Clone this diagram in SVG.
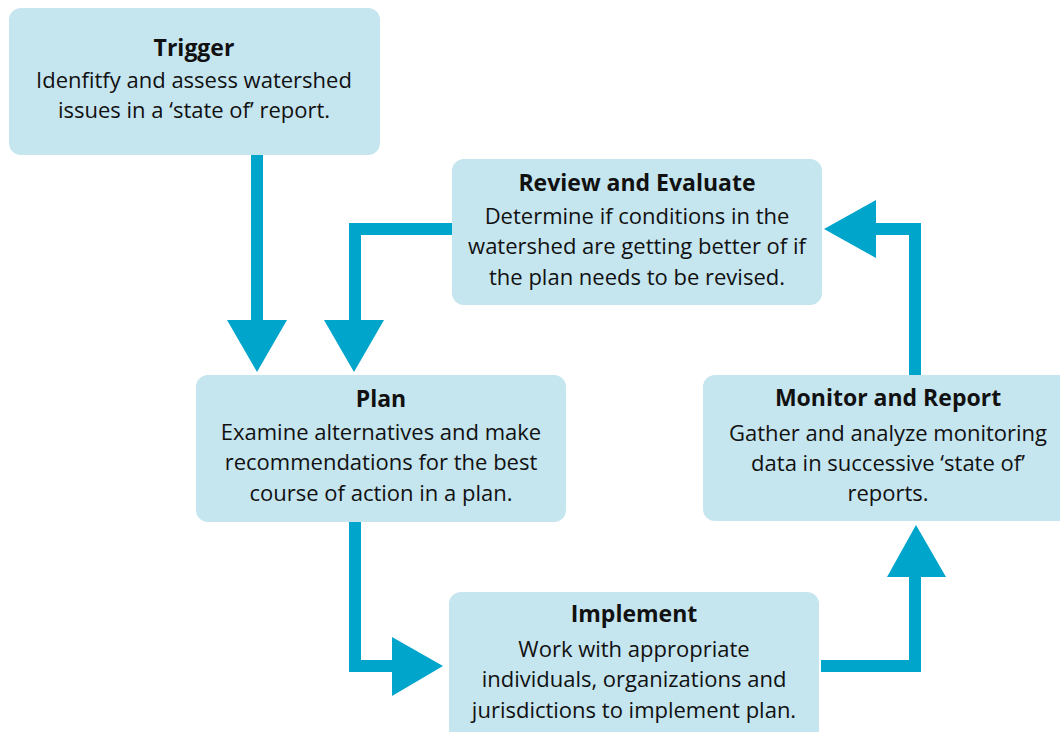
<svg xmlns="http://www.w3.org/2000/svg" width="1060" height="732" viewBox="0 0 1060 732">
<style>
.box{fill:#c5e5ef;}
.t{font-family:"Open Sans","Noto Sans",sans-serif;font-size:23px;font-weight:bold;fill:#111;text-anchor:middle;}
.b{font-family:"Open Sans","Noto Sans",sans-serif;font-size:22px;fill:#111;text-anchor:middle;}
.ln{fill:none;stroke:#00a5cb;stroke-width:12;}
.ah{fill:#00a5cb;}
</style>
<rect width="1060" height="732" fill="#fff"/>
<g id="connectors">
<path class="ln" d="M257,155 V322"/>
<polygon class="ah" points="227,320 287,320 257,372"/>
<path class="ln" d="M452,229 H355 V322"/>
<polygon class="ah" points="324,320 384,320 354,372"/>
<path class="ln" d="M355,522 V666 H394"/>
<polygon class="ah" points="392,637 392,696 443,666"/>
<path class="ln" d="M821,666 H915 V575"/>
<polygon class="ah" points="887,577 946,577 916,525"/>
<path class="ln" d="M915,375 V229 H874"/>
<polygon class="ah" points="876,200 876,258 824,229"/>
</g>
<g id="trigger">
<rect class="box" x="9" y="8" width="371" height="147" rx="12"/>
<text class="t" x="194" y="56">Trigger</text>
<text class="b" x="194" y="88">Idenfitfy and assess watershed</text>
<text class="b" x="194" y="118">issues in a ‘state of’ report.</text>
</g>
<g id="review">
<rect class="box" x="452" y="159" width="370" height="146" rx="12"/>
<text class="t" x="637" y="191">Review and Evaluate</text>
<text class="b" x="637" y="224">Determine if conditions in the</text>
<text class="b" x="637" y="254">watershed are getting better of if</text>
<text class="b" x="637" y="285">the plan needs to be revised.</text>
</g>
<g id="plan">
<rect class="box" x="196" y="375" width="370" height="147" rx="12"/>
<text class="t" x="381" y="407">Plan</text>
<text class="b" x="381" y="440">Examine alternatives and make</text>
<text class="b" x="381" y="470">recommendations for the best</text>
<text class="b" x="381" y="501">course of action in a plan.</text>
</g>
<g id="monitor">
<rect class="box" x="703" y="375" width="370" height="146" rx="12"/>
<text class="t" x="888" y="406">Monitor and Report</text>
<text class="b" x="888" y="441">Gather and analyze monitoring</text>
<text class="b" x="888" y="471">data in successive ‘state of’</text>
<text class="b" x="888" y="501">reports.</text>
</g>
<g id="implement">
<rect class="box" x="449" y="592" width="370" height="160" rx="12"/>
<text class="t" x="634" y="622">Implement</text>
<text class="b" x="634" y="657">Work with appropriate</text>
<text class="b" x="634" y="687">individuals, organizations and</text>
<text class="b" x="634" y="718">jurisdictions to implement plan.</text>
</g>
</svg>
